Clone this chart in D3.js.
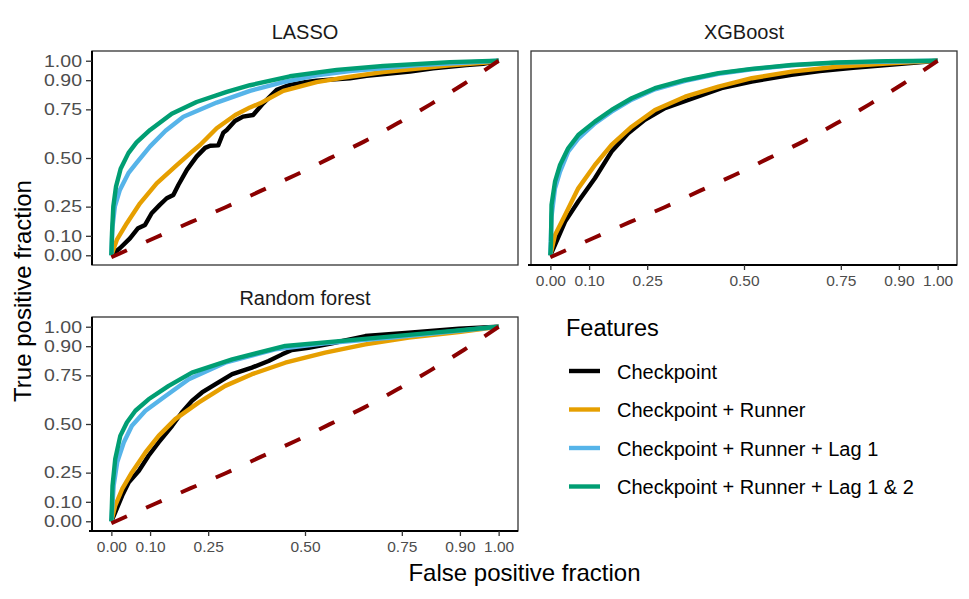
<!DOCTYPE html>
<html><head><meta charset="utf-8">
<script src="https://cdn.jsdelivr.net/npm/d3@7"></script>
<style>
body{margin:0;background:#fff;}
svg{font-family:"Liberation Sans",Arial,Helvetica,sans-serif;}
</style></head>
<body><svg id="c" width="969" height="599"></svg>
<script>
// ---------- data ----------
const panels = ["LASSO", "XGBoost", "Random forest"];
const seriesNames = ["Checkpoint", "Checkpoint + Runner", "Checkpoint + Runner + Lag 1", "Checkpoint + Runner + Lag 1 & 2"];
const seriesColors = ["#000000", "#E69F00", "#56B4E9", "#009E73"];
const tickValues = [0, 0.10, 0.25, 0.50, 0.75, 0.90, 1.00];

// LASSO  [FPR, TPR]
const lassoCheckpoint = [[0,0],[0.022,0.036],[0.048,0.087],[0.069,0.139],[0.087,0.156],[0.104,0.216],[0.125,0.259],[0.143,0.293],[0.16,0.31],[0.173,0.361],[0.195,0.439],[0.22,0.507],[0.242,0.552],[0.255,0.563],[0.276,0.565],[0.289,0.63],[0.298,0.644],[0.319,0.69],[0.34,0.713],[0.366,0.721],[0.392,0.781],[0.427,0.85],[0.461,0.876],[0.5,0.89],[0.53,0.898],[0.616,0.91],[0.659,0.922],[0.771,0.944],[0.831,0.961],[0.917,0.978],[0.96,0.984],[1,1]];
const lassoRunner = [[0,0],[0.014,0.079],[0.04,0.165],[0.074,0.267],[0.117,0.37],[0.169,0.464],[0.207,0.53],[0.229,0.567],[0.272,0.653],[0.32,0.721],[0.358,0.76],[0.384,0.781],[0.444,0.845],[0.53,0.89],[0.6,0.913],[0.702,0.942],[0.874,0.977],[0.969,0.99],[1,1]];
const lassoLag1 = [[0,0],[0.003,0.147],[0.009,0.25],[0.022,0.336],[0.044,0.422],[0.065,0.475],[0.1,0.56],[0.14,0.64],[0.186,0.712],[0.272,0.785],[0.358,0.845],[0.444,0.89],[0.53,0.925],[0.616,0.947],[0.788,0.977],[1,1]];
const lassoLag12 = [[0,0],[0.0016,0.113],[0.005,0.25],[0.012,0.353],[0.024,0.445],[0.044,0.525],[0.065,0.58],[0.1,0.644],[0.156,0.728],[0.22,0.788],[0.298,0.84],[0.358,0.874],[0.461,0.92],[0.582,0.953],[0.702,0.973],[0.874,0.993],[1,1]];

// XGBoost
const xgbCheckpoint = [[0,0],[0.012,0.053],[0.038,0.173],[0.072,0.276],[0.115,0.396],[0.158,0.533],[0.201,0.627],[0.244,0.696],[0.296,0.756],[0.356,0.798],[0.442,0.859],[0.52,0.893],[0.623,0.927],[0.696,0.947],[0.782,0.964],[0.868,0.978],[1,1]];
const xgbRunner = [[0,0],[0.012,0.104],[0.038,0.207],[0.072,0.344],[0.115,0.464],[0.158,0.567],[0.21,0.661],[0.27,0.747],[0.348,0.815],[0.434,0.867],[0.52,0.91],[0.623,0.944],[0.739,0.969],[0.868,0.986],[1,1]];
const xgbLag1 = [[0,0],[0.003,0.2],[0.012,0.344],[0.025,0.43],[0.046,0.533],[0.072,0.6],[0.115,0.678],[0.158,0.738],[0.21,0.8],[0.27,0.853],[0.348,0.897],[0.434,0.933],[0.52,0.956],[0.623,0.976],[0.739,0.99],[1,1]];
const xgbLag12 = [[0,0],[0.0016,0.07],[0.003,0.259],[0.012,0.378],[0.025,0.464],[0.046,0.55],[0.072,0.618],[0.115,0.687],[0.158,0.747],[0.21,0.807],[0.27,0.859],[0.348,0.901],[0.434,0.936],[0.52,0.958],[0.623,0.978],[0.739,0.991],[0.868,0.998],[1,1]];

// Random forest
const rfCheckpoint = [[0,0],[0.010,0.046],[0.028,0.132],[0.045,0.2],[0.071,0.26],[0.096,0.337],[0.122,0.405],[0.157,0.491],[0.182,0.559],[0.208,0.619],[0.234,0.662],[0.268,0.704],[0.312,0.756],[0.363,0.79],[0.406,0.824],[0.441,0.858],[0.466,0.88],[0.509,0.892],[0.57,0.915],[0.656,0.952],[0.768,0.969],[0.897,0.99],[1,1]];
const rfRunner = [[0,0],[0.010,0.08],[0.028,0.166],[0.053,0.251],[0.088,0.354],[0.122,0.439],[0.165,0.525],[0.225,0.61],[0.294,0.696],[0.363,0.756],[0.449,0.815],[0.552,0.867],[0.656,0.909],[0.768,0.944],[0.897,0.973],[1,1]];
const rfLag1 = [[0,0],[0.006,0.183],[0.015,0.303],[0.032,0.405],[0.053,0.491],[0.088,0.568],[0.14,0.644],[0.2,0.73],[0.294,0.815],[0.423,0.884],[0.552,0.915],[0.725,0.944],[1,1]];
const rfLag12 = [[0,0],[0.003,0.183],[0.010,0.32],[0.023,0.439],[0.040,0.508],[0.062,0.568],[0.096,0.627],[0.148,0.696],[0.208,0.764],[0.312,0.832],[0.449,0.901],[0.639,0.935],[0.811,0.966],[1,1]];

// reference (dashed) line
const referenceLine = [[0,-0.01],[0.113,0.09],[0.205,0.17],[0.295,0.247],[0.387,0.332],[0.477,0.414],[0.563,0.498],[0.651,0.583],[0.739,0.678],[0.825,0.777],[0.911,0.882],[1,1]];

const panelSeries = [
  [lassoCheckpoint, lassoRunner, lassoLag1, lassoLag12],
  [xgbCheckpoint, xgbRunner, xgbLag1, xgbLag12],
  [rfCheckpoint, rfRunner, rfLag1, rfLag12]
];

// ---------- layout ----------
const layout = [
  {x0:92,  x1:518, y0:51,  y1:265, showX:false, showY:true},
  {x0:531, x1:957, y0:51,  y1:265, showX:true,  showY:false},
  {x0:92,  x1:518, y0:317, y1:531, showX:true,  showY:true}
];

const svg = d3.select("#c");
const fmt = d3.format(".2f");

layout.forEach((L, i) => {
  const x = d3.scaleLinear().domain([-0.05, 1.05]).range([L.x0, L.x1]);
  const y = d3.scaleLinear().domain([-0.05, 1.05]).range([L.y1, L.y0]);
  const g = svg.append("g");

  const clipId = "clip" + i;
  svg.append("clipPath").attr("id", clipId).append("rect")
    .attr("x", L.x0).attr("y", L.y0).attr("width", L.x1 - L.x0).attr("height", L.y1 - L.y0);

  const line = d3.line().x(d => x(d[0])).y(d => y(d[1])).curve(d3.curveLinear);

  const lines = g.append("g").attr("clip-path", `url(#${clipId})`);
  panelSeries[i].forEach((s, k) => {
    lines.append("path").datum(s).attr("d", line)
      .attr("fill", "none").attr("stroke", seriesColors[k])
      .attr("stroke-width", 4.4).attr("stroke-linejoin", "round").attr("stroke-linecap", "butt");
  });
  lines.append("path").datum(referenceLine).attr("d", d3.line().x(d => x(d[0])).y(d => y(d[1])).curve(d3.curveMonotoneX))
    .attr("fill", "none").attr("stroke", "#8B0000").attr("stroke-width", 4)
    .attr("stroke-dasharray", "17,21");

  // panel border
  g.append("rect").attr("x", L.x0).attr("y", L.y0).attr("width", L.x1 - L.x0).attr("height", L.y1 - L.y0)
    .attr("fill", "none").attr("stroke", "#333333").attr("stroke-width", 1.3);

  // axes
  if (L.showY) {
    const ay = g.append("g").attr("transform", `translate(${L.x0},0)`)
      .call(d3.axisLeft(y).tickValues(tickValues).tickFormat(fmt).tickSize(6).tickPadding(4));
    ay.select(".domain").attr("stroke", "#000").attr("stroke-width", 2)
      .attr("d", `M0,${L.y0}V${L.y1}`);
    ay.selectAll(".tick line").attr("stroke", "#333333").attr("stroke-width", 1.3);
    ay.selectAll(".tick text").attr("fill", "#4D4D4D").style("font-size", "16.5px")
      .attr("font-family", "Liberation Sans, Arial, sans-serif")
      .attr("textLength", 38).attr("lengthAdjust", "spacingAndGlyphs");
  }
  if (L.showX) {
    const ax = g.append("g").attr("transform", `translate(0,${L.y1})`)
      .call(d3.axisBottom(x).tickValues(tickValues).tickFormat(fmt).tickSize(5).tickPadding(5));
    ax.select(".domain").attr("stroke", "#000").attr("stroke-width", 2)
      .attr("d", `M${L.x0 - 3},0H${L.x1}`);
    ax.selectAll(".tick line").attr("stroke", "#333333").attr("stroke-width", 1.3);
    ax.selectAll(".tick text").attr("fill", "#4D4D4D").style("font-size", "15.5px")
      .attr("font-family", "Liberation Sans, Arial, sans-serif");
  }

  // strip title
  svg.append("text").attr("x", (L.x0 + L.x1) / 2).attr("y", L.y0 - 12)
    .attr("text-anchor", "middle").attr("fill", "#1A1A1A").style("font-size", "20px")
    .text(panels[i]);
});

// axis titles
svg.append("text").attr("x", 524.5).attr("y", 581).attr("text-anchor", "middle")
  .style("font-size", "24px").attr("fill", "#000").text("False positive fraction");
svg.append("text").attr("transform", "translate(31,291) rotate(-90)").attr("text-anchor", "middle")
  .style("font-size", "24px").attr("fill", "#000").text("True positive fraction");

// legend
const lg = svg.append("g");
lg.append("text").attr("x", 566).attr("y", 336).style("font-size", "23.5px").attr("fill", "#000").text("Features");
const keyY = [371, 409.5, 448, 486.5];
seriesNames.forEach((n, k) => {
  lg.append("line").attr("x1", 569).attr("x2", 600).attr("y1", keyY[k]).attr("y2", keyY[k])
    .attr("stroke", seriesColors[k]).attr("stroke-width", 4.4);
  lg.append("text").attr("x", 617).attr("y", keyY[k] + 7.5).style("font-size", "20px").attr("fill", "#000").text(n);
});
</script></body></html>
